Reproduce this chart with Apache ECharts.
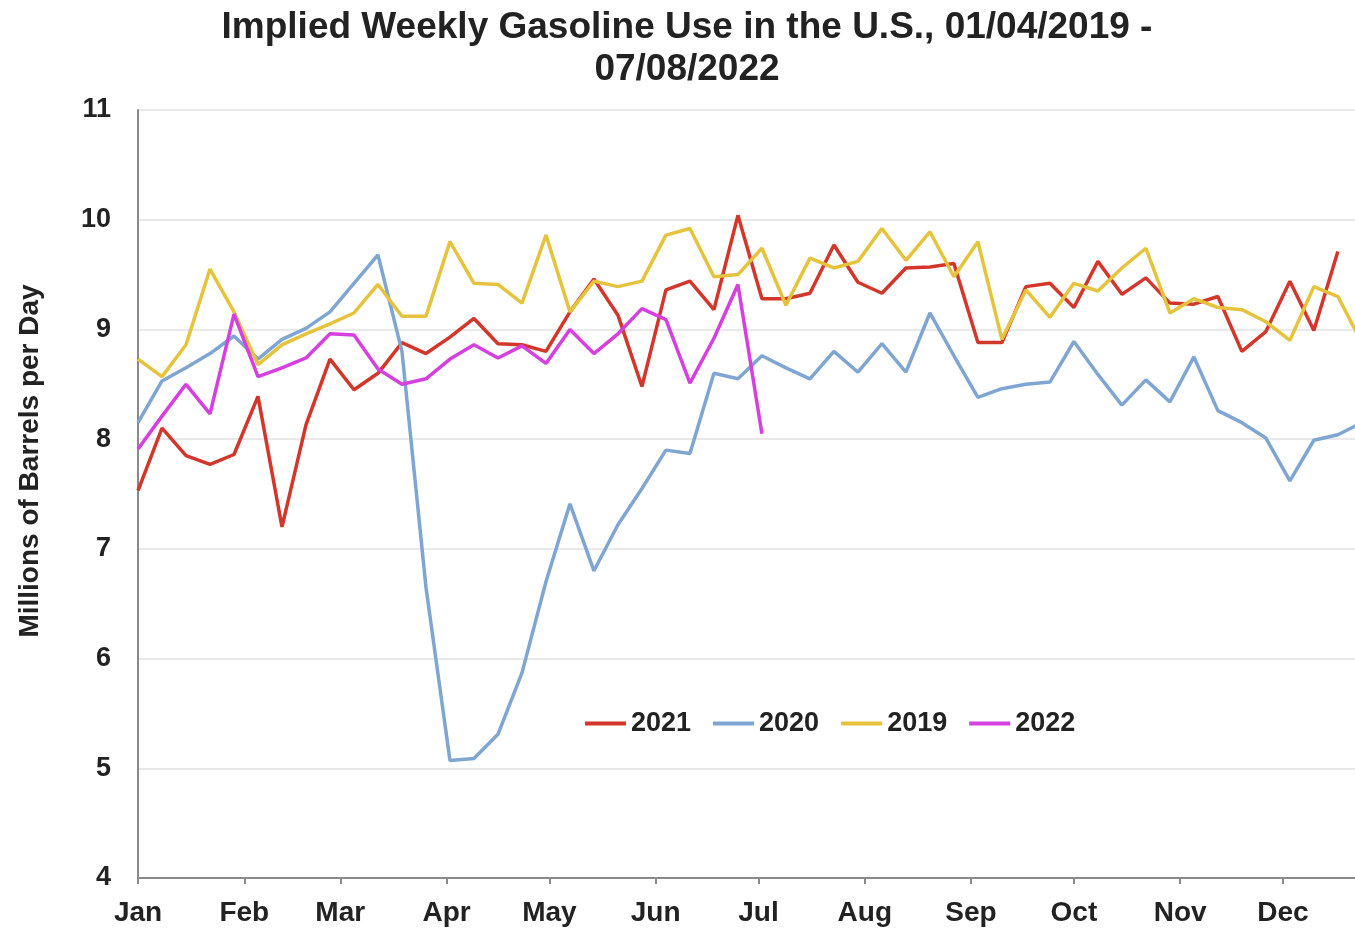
<!DOCTYPE html>
<html>
<head>
<meta charset="utf-8">
<title>Implied Weekly Gasoline Use</title>
<script src="https://cdn.jsdelivr.net/npm/echarts@6/dist/echarts.min.js"></script>
<style>
  html, body { margin: 0; padding: 0; background: #fff; }
  #chart { width: 1355px; height: 930px; }
</style>
</head>
<body>
<div id="chart"></div>
<script>
// month tick positions (day of year) and labels
const monthDays = [0, 31, 59, 90, 120, 151, 181, 212, 243, 273, 304, 334];
const monthNames = ['Jan', 'Feb', 'Mar', 'Apr', 'May', 'Jun', 'Jul', 'Aug', 'Sep', 'Oct', 'Nov', 'Dec'];
const yTicks = [4, 5, 6, 7, 8, 9, 10, 11];

// weekly values, millions of barrels per day (week 1 = first week of Jan)
const data2021 = [7.53, 8.10, 7.85, 7.77, 7.86, 8.39, 7.20, 8.13, 8.73, 8.45,
  8.60, 8.88, 8.78, 8.93, 9.10, 8.87, 8.86, 8.80, 9.16, 9.46,
  9.13, 8.48, 9.36, 9.44, 9.18, 10.04, 9.28, 9.28, 9.33, 9.77,
  9.43, 9.33, 9.56, 9.57, 9.60, 8.88, 8.88, 9.39, 9.42, 9.20,
  9.62, 9.32, 9.47, 9.24, 9.23, 9.30, 8.80, 8.98, 9.44, 8.99,
  9.71];
const data2020 = [8.15, 8.53, 8.65, 8.78, 8.94, 8.73, 8.91, 9.01, 9.16, 9.42,
  9.68, 8.80, 6.65, 5.07, 5.09, 5.31, 5.87, 6.70, 7.41, 6.80,
  7.22, 7.55, 7.90, 7.87, 8.60, 8.55, 8.76, 8.65, 8.55, 8.80,
  8.61, 8.87, 8.61, 9.15, 8.76, 8.38, 8.46, 8.50, 8.52, 8.89,
  8.59, 8.31, 8.54, 8.34, 8.75, 8.26, 8.15, 8.01, 7.62, 7.99,
  8.04, 8.15];
const data2019 = [8.73, 8.57, 8.86, 9.55, 9.16, 8.68, 8.86, 8.96, 9.05, 9.15,
  9.41, 9.12, 9.12, 9.80, 9.42, 9.41, 9.24, 9.86, 9.16, 9.44,
  9.39, 9.44, 9.86, 9.92, 9.48, 9.50, 9.74, 9.22, 9.65, 9.56,
  9.62, 9.92, 9.63, 9.89, 9.48, 9.80, 8.91, 9.36, 9.11, 9.42,
  9.35, 9.56, 9.74, 9.15, 9.28, 9.20, 9.18, 9.07, 8.90, 9.39,
  9.30, 8.88];
const data2022 = [7.91, 8.21, 8.50, 8.23, 9.14, 8.57, 8.65, 8.74, 8.96, 8.95,
  8.64, 8.50, 8.55, 8.73, 8.86, 8.74, 8.85, 8.69, 9.00, 8.78,
  8.96, 9.19, 9.09, 8.51, 8.92, 9.41, 8.05];

const FONT = '"Liberation Sans", Arial, sans-serif';

const toPoints = (arr) => arr.map((v, i) => [i * 7, v]);

const makeSeries = (name, arr, color) => ({
  name: name,
  type: 'line',
  data: toPoints(arr),
  symbol: 'none',
  smooth: false,
  clip: true,
  lineStyle: { color: color, width: 3.5 },
  itemStyle: { color: color }
});

const chart = echarts.init(document.getElementById('chart'));

const option = {
  backgroundColor: '#ffffff',
  animation: false,
  textStyle: { fontFamily: FONT },
  title: {
    text: 'Implied Weekly Gasoline Use in the U.S., 01/04/2019 -\n07/08/2022',
    left: 687,
    top: 7,
    padding: 0,
    textAlign: 'center',
    textStyle: {
      fontFamily: FONT,
      fontSize: 37,
      fontWeight: 'bold',
      color: '#222',
      lineHeight: 42
    }
  },
  graphic: [{
    type: 'text',
    x: 30,
    y: 461,
    rotation: Math.PI / 2,
    style: {
      text: 'Millions of Barrels per Day',
      font: 'bold 28px ' + FONT,
      fill: '#222',
      align: 'center',
      verticalAlign: 'middle'
    }
  }],
  legend: {
    data: ['2021', '2020', '2019', '2022'],
    icon: 'rect',
    left: 580,
    top: 705,
    itemWidth: 41,
    itemHeight: 4,
    itemGap: 22,
    textStyle: { fontFamily: FONT, fontSize: 27, fontWeight: 'bold', color: '#222' }
  },
  grid: { left: 138, right: 0, top: 110, bottom: 52, containLabel: false },
  xAxis: {
    type: 'value',
    min: 0,
    max: 355,
    axisLine: { show: true, lineStyle: { color: '#8a8a8a', width: 2 } },
    axisTick: { show: true, customValues: monthDays, length: 6, lineStyle: { color: '#8a8a8a', width: 2 } },
    splitLine: { show: false },
    axisLabel: {
      customValues: monthDays,
      formatter: (v) => monthNames[monthDays.indexOf(v)] || '',
      margin: 21,
      fontFamily: FONT,
      fontSize: 28,
      fontWeight: 'bold',
      color: '#222'
    }
  },
  yAxis: {
    type: 'value',
    min: yTicks[0],
    max: yTicks[yTicks.length - 1],
    interval: 1,
    axisLine: { show: true, lineStyle: { color: '#8a8a8a', width: 2 } },
    axisTick: { show: false },
    splitLine: { show: true, lineStyle: { color: '#e2e2e2', width: 1.5 } },
    axisLabel: {
      margin: 27,
      fontFamily: FONT,
      fontSize: 27,
      fontWeight: 'bold',
      color: '#222'
    }
  },
  series: [
    makeSeries('2021', data2021, '#d3362b'),
    makeSeries('2020', data2020, '#7fa6d2'),
    makeSeries('2019', data2019, '#e5c33c'),
    makeSeries('2022', data2022, '#d63fe0')
  ]
};

chart.setOption(option);
window.addEventListener('resize', () => chart.resize());
</script>
</body>
</html>
